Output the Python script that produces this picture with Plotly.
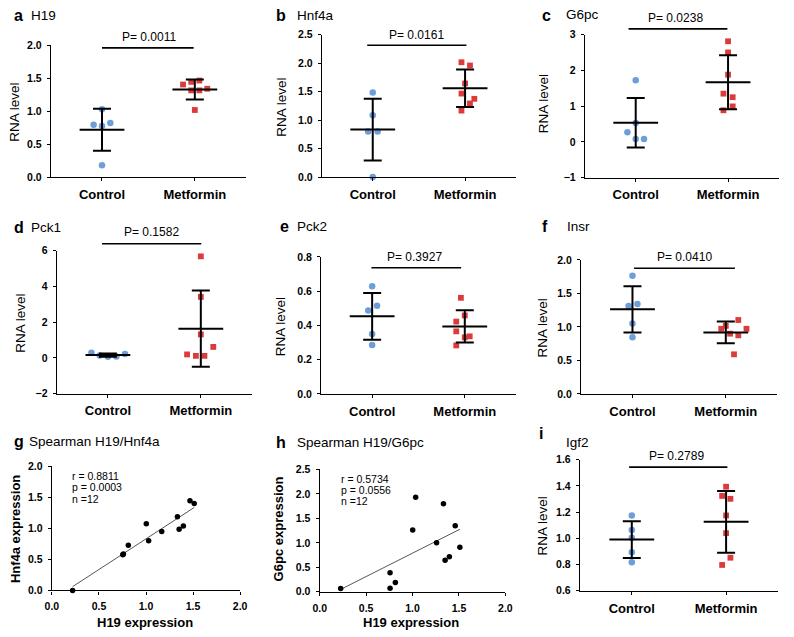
import numpy as np
import plotly.graph_objects as go

W, H = 794, 637
FONT = "Liberation Sans, Arial, sans-serif"
BLUE = "#6d9eda"
RED = "#dc3b3b"

groups = ["Control", "Metformin"]

# ---- column scatter data (RNA level) ----
h19_ctrl = [0.794, 0.774, 0.819, 1.027, 0.179]
h19_met = [1.404, 1.444, 1.464, 1.315, 1.315, 1.340, 1.017]
hnf4a_ctrl = [1.483, 1.086, 0.799, 0.799, 0.0]
hnf4a_met = [2.017, 1.960, 1.644, 1.466, 1.374, 1.293, 1.167]
g6pc_ctrl = [1.728, 0.529, 0.272, 0.080, 0.080]
g6pc_met = [2.817, 2.506, 1.883, 1.352, 1.252, 0.995, 0.886]
pck1_ctrl = [0.28, 0.13, 0.06, 0.08, 0.21]
pck1_met = [5.68, 3.41, 1.31, 0.61, 0.19, 0.11, 0.11]
pck2_ctrl = [0.628, 0.514, 0.487, 0.349, 0.286]
pck2_met = [0.561, 0.458, 0.422, 0.365, 0.330, 0.336, 0.283]
insr_ctrl = [1.761, 1.341, 1.312, 1.049, 0.844]
insr_met = [1.102, 1.015, 0.971, 0.971, 0.898, 0.873, 0.590]
igf2_ctrl = [1.174, 1.064, 1.004, 0.894, 0.817]
igf2_met = [1.393, 1.323, 1.301, 1.174, 1.039, 0.852, 0.797]

# horizontal scatter spread (beeswarm) of each point, in category units
h19_ctrl_jit = [-0.09, 0, 0.09, 0, 0]
h19_met_jit = [-0.127, -0.039, 0.049, -0.039, 0.049, 0.134, 0]
hnf4a_ctrl_jit = [0, 0, -0.05, 0.053, 0]
hnf4a_met_jit = [-0.039, 0.053, 0, -0.039, 0.1, 0.053, -0.039]
g6pc_ctrl_jit = [0, 0, -0.09, 0, 0.09]
g6pc_met_jit = [0, 0, 0, -0.05, 0.05, 0.05, -0.05]
pck1_ctrl_jit = [-0.177, -0.088, 0, 0.092, 0.184]
pck1_met_jit = [0, 0, 0, 0.134, -0.148, -0.053, 0.039]
pck2_ctrl_jit = [0, 0.053, -0.042, 0, 0]
pck2_met_jit = [-0.042, 0, -0.092, -0.092, 0, 0.053, -0.092]
insr_ctrl_jit = [0, 0.053, -0.042, 0, 0]
insr_met_jit = [0.134, 0, -0.049, 0.222, 0.046, 0.134, 0.088]
igf2_ctrl_jit = [0, 0, 0, 0, 0]
igf2_met_jit = [0, -0.042, 0.046, 0, 0, 0.046, -0.042]

p_values = ["P= 0.0011", "P= 0.0161", "P= 0.0238", "P= 0.1582",
            "P= 0.3927", "P= 0.0410", "P= 0.2789"]

# ---- correlation data ----
g_h19 = [0.22, 0.753, 0.76, 0.812, 1.003, 1.028, 1.167, 1.334, 1.352, 1.397, 1.467, 1.512]
g_hnf4a = [0.0, 0.575, 0.59, 0.728, 1.077, 0.802, 0.950, 1.187, 0.987, 1.040, 1.446, 1.404]
h_h19 = [0.226, 0.758, 0.758, 0.815, 1.002, 1.034, 1.259, 1.333, 1.351, 1.397, 1.460, 1.510]
h_g6pc = [0.067, 0.388, 0.074, 0.187, 1.263, 1.932, 1.003, 1.798, 0.642, 0.715, 1.350, 0.909]
g_stats = ["r = 0.8811", "p = 0.0003", "n =12"]
h_stats = ["r = 0.5734", "p = 0.0556", "n =12"]


def px(x):
    return x / W


def py(y):
    return 1 - y / H


fig = go.Figure()
annotations = []
shapes = []
layout_axes = {}


def axis_names(k):
    return ("xaxis" if k == 1 else f"xaxis{k}", "yaxis" if k == 1 else f"yaxis{k}",
            "x" if k == 1 else f"x{k}", "y" if k == 1 else f"y{k}")


def base_axis():
    return dict(showline=True, linecolor="black", linewidth=1.3, ticks="outside",
                ticklen=3, tickwidth=1.3, tickcolor="black", showgrid=False,
                zeroline=False, fixedrange=True)


def text(x, y, s, size, bold=False, xanchor="center", angle=0):
    annotations.append(dict(x=px(x), y=py(y), xref="paper", yref="paper", text=s,
                            showarrow=False, xanchor=xanchor, yanchor="middle",
                            textangle=angle,
                            font=dict(family=FONT, size=size, color="black",
                                      weight="bold" if bold else "normal")))


def column_panel(k, ctrl, met, cj, mj, cpx, sp, ytop, ybot, yrange, dtick, fmt,
                 pval, ptext_xy, pline):
    xa, ya, xr, yr = axis_names(k)
    xd = [px(cpx - 0.55 * sp), px(cpx + 1.55 * sp)]
    yd = [py(ybot), py(ytop)]
    ax = base_axis()
    ax.update(domain=xd, range=[-0.55, 1.55], anchor=yr, tickvals=[0, 1],
              ticktext=groups, ticklabelstandoff=2,
              tickfont=dict(family=FONT, size=13, color="black", weight="bold"))
    ay = base_axis()
    ay.update(domain=yd, range=yrange, anchor=xr, dtick=dtick, tick0=yrange[0],
              tickformat=fmt, ticklabelstandoff=3,
              tickfont=dict(family=FONT, size=10.5, color="black", weight="bold"))
    layout_axes[xa] = ax
    layout_axes[ya] = ay
    fig.add_trace(go.Scatter(x=[0 + j for j in cj], y=ctrl, mode="markers", xaxis=xr, yaxis=yr,
                             marker=dict(symbol="circle", size=6.5, color=BLUE),
                             cliponaxis=False, showlegend=False, hoverinfo="y"))
    fig.add_trace(go.Scatter(x=[1 + j for j in mj], y=met, mode="markers", xaxis=xr, yaxis=yr,
                             marker=dict(symbol="square", size=5.8, color=RED),
                             cliponaxis=False, showlegend=False, hoverinfo="y"))
    means = [float(np.mean(ctrl)), float(np.mean(met))]
    sds = [float(np.std(ctrl, ddof=1)), float(np.std(met, ddof=1))]
    fig.add_trace(go.Scatter(x=[0, 1], y=means, mode="markers", xaxis=xr, yaxis=yr,
                             marker=dict(symbol="line-ew", size=32, color="black",
                                         line=dict(width=2, color="black")),
                             error_y=dict(type="data", array=sds, visible=True, width=9,
                                          thickness=2, color="black"),
                             cliponaxis=False, showlegend=False, hoverinfo="y"))
    text(ptext_xy[0], ptext_xy[1], pval, 12)
    shapes.append(dict(type="line", xref="paper", yref="paper",
                       x0=px(pline[0]), x1=px(pline[1]), y0=py(pline[2]), y1=py(pline[2]),
                       line=dict(color="black", width=1.6)))


column_panel(1, h19_ctrl, h19_met, h19_ctrl_jit, h19_met_jit, 96.7, 94.5, 40, 174.3,
             [0, 2], 0.5, ".1f", p_values[0], (144.3, 31.7), (96.7, 190, 42.7))
column_panel(2, hnf4a_ctrl, hnf4a_met, hnf4a_ctrl_jit, hnf4a_met_jit, 372.3, 94, 29.3, 174.3,
             [0, 2.5], 0.5, ".1f", p_values[1], (416.7, 29.3), (366.7, 467.7, 40))
column_panel(3, g6pc_ctrl, g6pc_met, g6pc_ctrl_jit, g6pc_met_jit, 640, 94, 29.3, 175,
             [-1, 3], 1, "d", p_values[2], (680, 12.7), (632.7, 733.3, 23.3))
column_panel(4, pck1_ctrl, pck1_met, pck1_ctrl_jit, pck1_met_jit, 102.7, 94.6, 249.3, 395,
             [-2, 6], 2, "d", p_values[3], (146.7, 230.7), (96.7, 197.7, 242.3))
column_panel(5, pck2_ctrl, pck2_met, pck2_ctrl_jit, pck2_met_jit, 371.7, 94.3, 255.7, 395.3,
             [0, 0.8], 0.2, ".1f", p_values[4], (415, 256), (371, 462.3, 266.7))
column_panel(6, insr_ctrl, insr_met, insr_ctrl_jit, insr_met_jit, 636.7, 95, 258.7, 395.3,
             [0, 2], 0.5, ".1f", p_values[5], (690, 256), (638.3, 741, 267.3))
column_panel(9, igf2_ctrl, igf2_met, igf2_ctrl_jit, igf2_met_jit, 636, 96, 462.3, 596,
             [0.6, 1.6], 0.2, ".1f", p_values[6], (681.7, 458.3), (633.3, 733.3, 470))


def corr_panel(k, xv, yv, x0, x1, ytop, ybot, yrange, stats, stat_x, stat_y):
    xa, ya, xr, yr = axis_names(k)
    ax = base_axis()
    ax.update(domain=[px(x0), px(x1)], range=[0, 2], anchor=yr, dtick=0.5, tickformat=".1f",
              ticklabelstandoff=3,
              tickfont=dict(family=FONT, size=10.5, color="black", weight="bold"))
    ay = base_axis()
    ay.update(domain=[py(ybot), py(ytop)], range=yrange, anchor=xr, dtick=0.5,
              tickformat=".1f", ticklabelstandoff=3,
              tickfont=dict(family=FONT, size=10.5, color="black", weight="bold"))
    layout_axes[xa] = ax
    layout_axes[ya] = ay
    slope, icpt = np.polyfit(xv, yv, 1)
    xs = [min(xv), max(xv)]
    fig.add_trace(go.Scatter(x=xs, y=[slope * v + icpt for v in xs], mode="lines",
                             xaxis=xr, yaxis=yr, line=dict(color="#555555", width=1),
                             showlegend=False, hoverinfo="skip"))
    fig.add_trace(go.Scatter(x=xv, y=yv, mode="markers", xaxis=xr, yaxis=yr,
                             marker=dict(size=5.5, color="black"), cliponaxis=False,
                             showlegend=False))
    for i, s in enumerate(stats):
        text(stat_x, stat_y[i], s, 10.5, xanchor="left")


corr_panel(7, g_h19, g_hnf4a, 45.7, 237.3, 469.3, 595.7, [0, 2], g_stats, 64, [479.3, 490.7, 502])
corr_panel(8, h_h19, h_g6pc, 318.3, 507.3, 472.3, 597, [0, 2.5], h_stats, 337.5, [481.7, 493.3, 505])

# ---- panel letters and titles ----
letters = [("a", 5, 10, "H19", 22, 10), ("b", 272, 9.3, "Hnf4a", 293.3, 9.3),
           ("c", 543, 10, "G6pc", 567.3, 8.5), ("d", 5, 226, "Pck1", 22.7, 226),
           ("e", 276, 225, "Pck2", 293.3, 225), ("f", 543, 225, "Insr", 568.3, 225),
           ("g", 5, 444, "Spearman H19/Hnf4a", 20.7, 444),
           ("h", 272, 445, "Spearman H19/G6pc", 293.3, 445),
           ("i", 540, 436, "Igf2", 566.7, 445)]
for L, lx, ly, T, tx, ty in letters:
    text(lx, ly, L, 16, bold=True, xanchor="left")
    text(tx, ty, T, 13.5, xanchor="left")

# ---- axis titles ----
for (x, y) in [(8, 108), (278.7, 103), (545.7, 100), (14, 323), (278.7, 326.7),
               (545, 328.3), (545, 530)]:
    text(x, y, "RNA level", 13.5, angle=-90)
text(8, 533.3, "Hnf4a expression", 13, bold=True, angle=-90)
text(276, 533.3, "G6pc expression", 13, bold=True, angle=-90)
text(140, 628.3, "H19 expression", 13, bold=True)
text(411.7, 628, "H19 expression", 13, bold=True)

fig.update_layout(width=W, height=H, margin=dict(l=0, r=0, t=0, b=0),
                  paper_bgcolor="white", plot_bgcolor="white",
                  font=dict(family=FONT, color="black"),
                  annotations=annotations, shapes=shapes, **layout_axes)
fig.write_html("out.html", config={"displayModeBar": False},
               post_script="document.body.style.margin='0';document.body.style.overflow='hidden';")
